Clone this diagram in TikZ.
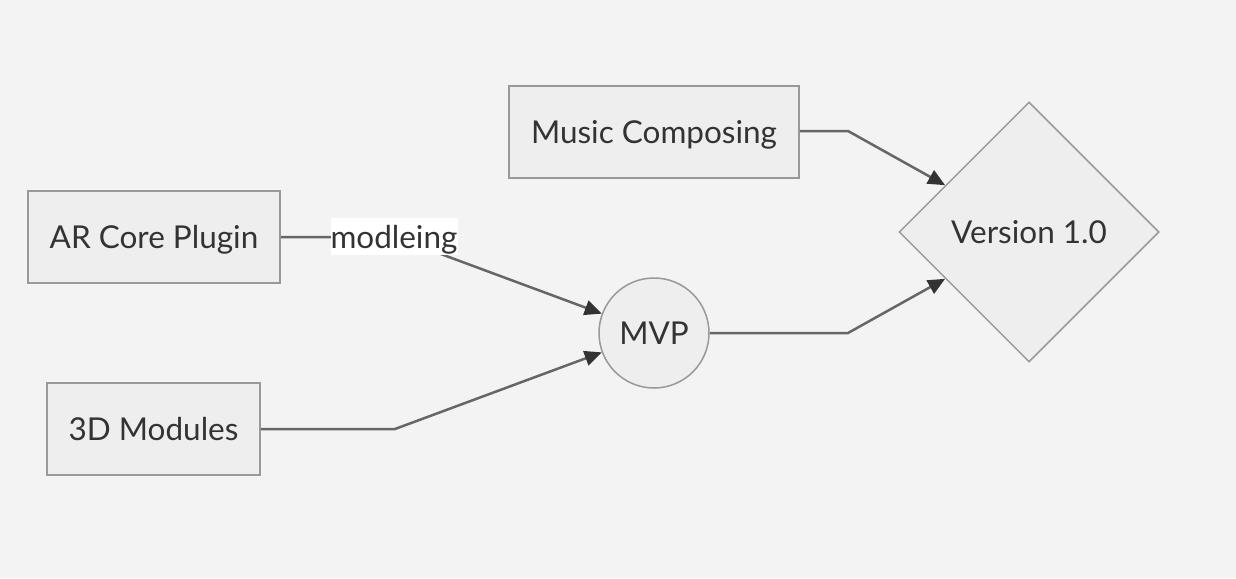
\documentclass[tikz,border=0pt]{standalone}
\usepackage{fontspec}
\setmainfont{Lato}
\usetikzlibrary{shapes.geometric,arrows.meta}
\definecolor{bg}{HTML}{F3F3F3}
\definecolor{nodefill}{HTML}{EEEEEE}
\definecolor{nodeline}{HTML}{999999}
\definecolor{edgeline}{HTML}{666666}
\definecolor{txt}{HTML}{333333}
\tikzset{
  box/.style={draw=nodeline, fill=nodefill, line width=1.5pt, text=txt, font=\fontsize{31.5}{36}\selectfont, inner sep=0pt, text height=23pt, text depth=0pt},
  edge/.style={draw=edgeline, line width=2.5pt, -{Triangle[length=17pt,width=15pt,color=txt]}},
  lbl/.style={fill=white, text=txt, font=\fontsize{31.5}{36}\selectfont, inner sep=0pt, minimum height=37pt, text depth=0pt, anchor=center}
}
\begin{document}
\begin{tikzpicture}[x=1pt,y=-1pt]
\fill[bg] (0,0) rectangle (1236,578);
\useasboundingbox (0,0) rectangle (1236,578);
\node[box, rectangle, minimum width=290pt, minimum height=92pt] (music) at (654,132) {Music Composing};
\node[box, rectangle, minimum width=252pt, minimum height=92pt] (ar) at (154,237) {AR Core Plugin};
\node[box, rectangle, minimum width=213pt, minimum height=92pt] (mod) at (153.5,429) {3D Modules};
\node[box, circle, minimum size=110pt] (mvp) at (654,333) {MVP};
\node[box, diamond, minimum width=260pt, minimum height=260pt] (ver) at (1029,232) {Version 1.0};
\coordinate (b1) at (395,237);
\coordinate (b2) at (395,429);
\coordinate (b3) at (848,131);
\coordinate (b4) at (848,333);
\draw[edge] (ar.east) -- (b1) -- (mvp);
\node[lbl] (l1) at (394,236.5) {modleing};
\draw[edge] (mod.east) -- (b2) -- (mvp);
\draw[edge] (music.east |- b3) -- (b3) -- (ver);
\draw[edge] (mvp.east) -- (b4) -- (ver);
\end{tikzpicture}
\end{document}
